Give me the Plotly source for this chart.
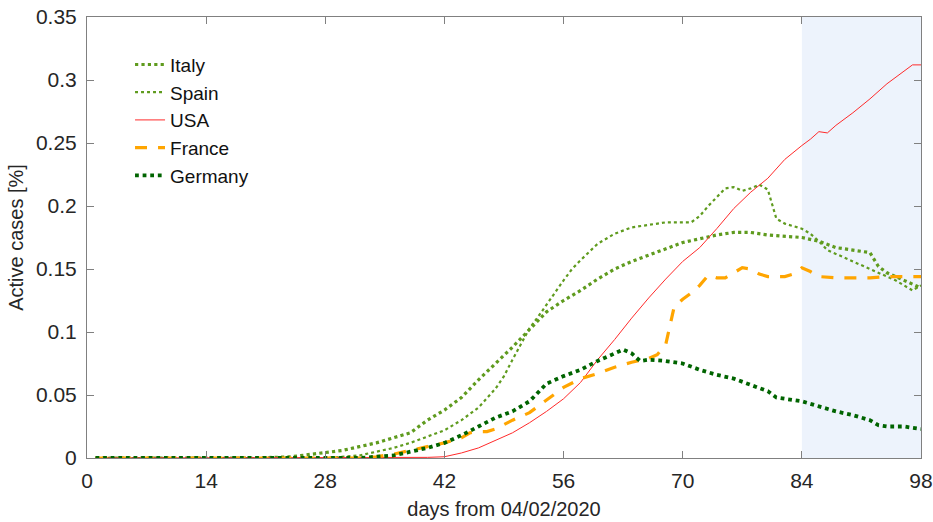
import plotly.graph_objects as go

# ---- data ----
italy_x = [1, 20, 24, 28, 30, 32, 34, 36, 38, 40, 42, 44, 46, 48, 50, 52, 54, 56, 58, 60, 62, 64, 66, 68, 70,
           72, 74, 76, 78, 80, 82, 84, 86, 88, 90, 92, 93, 94, 96, 98]
italy_y = [0, 0, 0.001, 0.004, 0.006, 0.009, 0.012, 0.016, 0.020, 0.030, 0.038, 0.048, 0.062, 0.075, 0.088,
           0.102, 0.116, 0.125, 0.133, 0.142, 0.150, 0.156, 0.161, 0.166, 0.171, 0.174, 0.177, 0.179, 0.179,
           0.177, 0.176, 0.175, 0.172, 0.167, 0.165, 0.163, 0.152, 0.147, 0.141, 0.135]

spain_x = [1, 28, 32, 34, 36, 38, 40, 42, 44, 46, 48, 49, 50, 51, 52, 53, 54, 55, 56, 57, 58, 60, 62, 64, 66,
           68, 70, 71, 72, 73, 74, 75, 76, 77, 78, 79, 80, 81, 82, 84, 85, 86, 87, 89, 91, 93, 95, 97, 98]
spain_y = [0, 0, 0.002, 0.005, 0.008, 0.012, 0.017, 0.022, 0.030, 0.040, 0.055, 0.065, 0.078, 0.090, 0.103,
           0.112, 0.122, 0.132, 0.141, 0.150, 0.157, 0.170, 0.178, 0.183, 0.185, 0.187, 0.187, 0.187, 0.192,
           0.200, 0.207, 0.214, 0.215, 0.212, 0.214, 0.217, 0.213, 0.190, 0.186, 0.182, 0.178, 0.172, 0.165,
           0.159, 0.153, 0.147, 0.141, 0.133, 0.137]

usa_x = [1, 38, 40, 42, 44, 46, 48, 50, 52, 54, 56, 58, 60, 62, 64, 66, 68, 70, 72, 74, 76, 78, 80, 82, 84,
         85, 86, 87, 88, 90, 92, 94, 96, 97, 98]
usa_y = [0, 0, 0.0005, 0.001, 0.004, 0.008, 0.014, 0.020, 0.028, 0.037, 0.047, 0.060, 0.078, 0.094, 0.111,
         0.127, 0.142, 0.156, 0.167, 0.182, 0.198, 0.211, 0.222, 0.237, 0.248, 0.253, 0.259, 0.258, 0.264,
         0.274, 0.285, 0.297, 0.307, 0.312, 0.312]

france_x = [1, 32, 34, 36, 38, 40, 42, 44, 45, 46, 47, 48, 50, 52, 54, 56, 58, 60, 62, 64, 66, 67, 68, 69, 70,
            71, 72, 73, 74, 75, 76, 77, 78, 79, 80, 82, 83, 84, 85, 86, 88, 90, 92, 94, 96, 98]
france_y = [0, 0, 0.001, 0.003, 0.006, 0.009, 0.012, 0.016, 0.020, 0.021, 0.021, 0.023, 0.030, 0.036, 0.046,
            0.056, 0.063, 0.067, 0.072, 0.076, 0.079, 0.082, 0.090, 0.120, 0.126, 0.131, 0.137, 0.145, 0.143,
            0.143, 0.147, 0.151, 0.150, 0.146, 0.144, 0.144, 0.146, 0.151, 0.148, 0.144, 0.143, 0.143, 0.143,
            0.144, 0.144, 0.144]

germany_x = [1, 32, 34, 36, 38, 40, 42, 44, 46, 48, 50, 52, 54, 56, 58, 60, 62, 63, 64, 65, 66, 68, 70, 72,
             74, 76, 78, 80, 81, 82, 84, 86, 88, 90, 92, 93, 94, 96, 98]
germany_y = [0, 0, 0.001, 0.002, 0.005, 0.008, 0.012, 0.018, 0.025, 0.032, 0.037, 0.045, 0.059, 0.065, 0.070,
             0.077, 0.083, 0.086, 0.083, 0.077, 0.078, 0.077, 0.075, 0.070, 0.066, 0.063, 0.058, 0.053, 0.048,
             0.047, 0.045, 0.041, 0.037, 0.034, 0.030, 0.026, 0.025, 0.025, 0.023]

x_ticks = [0, 14, 28, 42, 56, 70, 84, 98]
y_ticks = [0, 0.05, 0.1, 0.15, 0.2, 0.25, 0.3, 0.35]
y_ticklabels = ["0", "0.05", "0.1", "0.15", "0.2", "0.25", "0.3", "0.35"]
shade_range = [84, 98]

OLIVE = "#5f9b1e"
TEXT = "#262626"
FS = 20

fig = go.Figure()
fig.add_trace(go.Scatter(x=italy_x, y=italy_y, name="Italy", mode="lines",
                         line=dict(color=OLIVE, width=3.2, dash="dot")))
fig.add_trace(go.Scatter(x=spain_x, y=spain_y, name="Spain", mode="lines",
                         line=dict(color=OLIVE, width=2.2, dash="dot")))
fig.add_trace(go.Scatter(x=usa_x, y=usa_y, name="USA", mode="lines",
                         line=dict(color="#ff2a2a", width=1)))
fig.add_trace(go.Scatter(x=france_x, y=france_y, name="France", mode="lines",
                         line=dict(color="#ffa500", width=3.2, dash="12px,11px")))
fig.add_trace(go.Scatter(x=germany_x, y=germany_y, name="Germany", mode="lines",
                         line=dict(color="#006400", width=3.8, dash="dot")))

fig.add_shape(type="rect", xref="x", yref="paper", x0=shade_range[0], x1=shade_range[1], y0=0, y1=1,
              fillcolor="#edf3fc", line_width=0, layer="below")

axis_common = dict(showgrid=False, zeroline=False, showline=True, linecolor="#808080", linewidth=1,
                   mirror="allticks", ticks="inside", ticklen=7, tickcolor="#808080",
                   tickfont=dict(size=21, color=TEXT), automargin=False)
fig.update_xaxes(range=[0, 98], tickvals=x_ticks, ticklabelstandoff=4,
                 title=dict(text="days from 04/02/2020", font=dict(size=FS, color=TEXT), standoff=10),
                 **axis_common)
fig.update_yaxes(range=[0, 0.35], tickvals=y_ticks, ticktext=y_ticklabels, ticklabelstandoff=5,
                 title=dict(text="Active cases [%]", font=dict(size=FS, color=TEXT), standoff=6),
                 **axis_common)

fig.update_layout(
    width=933, height=522,
    margin=dict(l=87, r=12, t=17, b=64),
    plot_bgcolor="white", paper_bgcolor="white",
    font=dict(family="Liberation Sans, Arial, sans-serif", size=FS, color=TEXT),
    legend=dict(x=0.0516, y=0.935, xanchor="left", yanchor="top", bgcolor="rgba(0,0,0,0)",
                font=dict(size=19, color="#111111"), tracegroupgap=0, itemsizing="trace"),
)

fig.write_html("out.html")
